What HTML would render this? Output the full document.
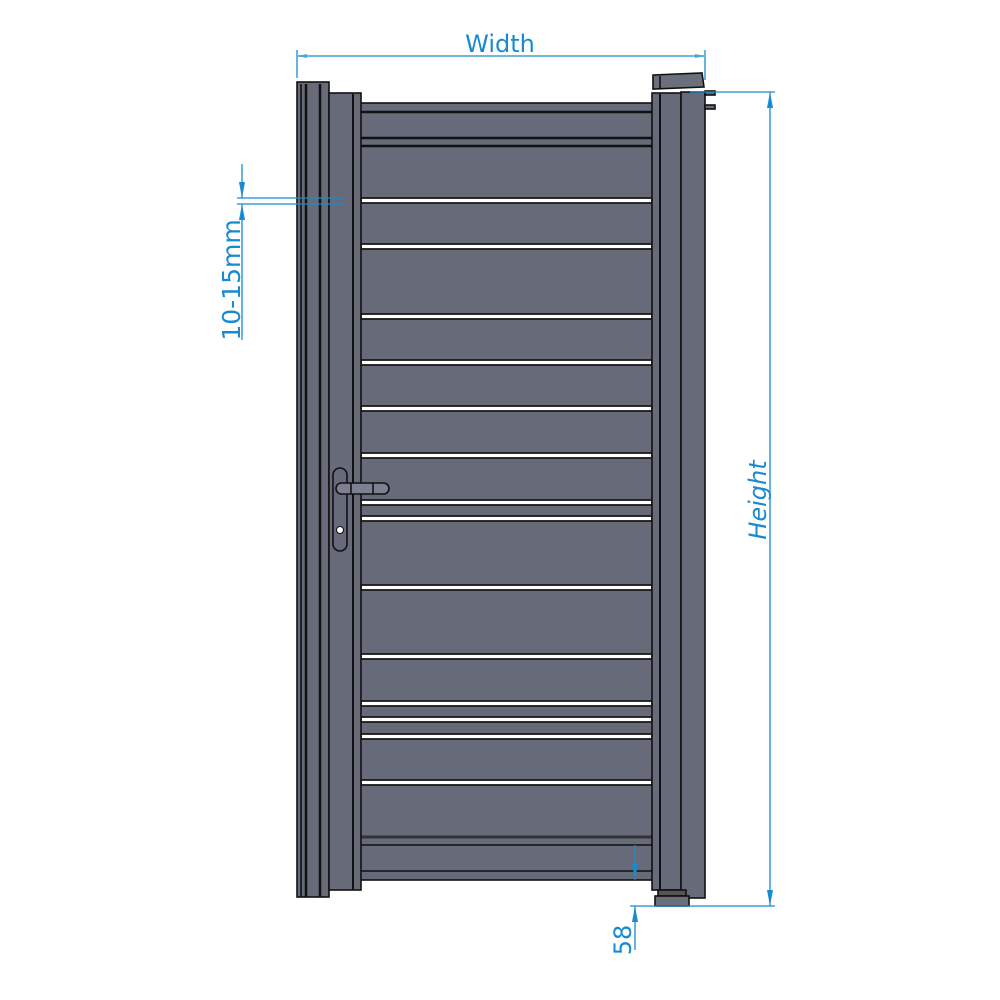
<!DOCTYPE html>
<html><head><style>html,body{margin:0;padding:0;background:#fff}svg{display:block}</style></head>
<body>
<svg width="1000" height="1000" viewBox="0 0 1000 1000" xmlns="http://www.w3.org/2000/svg">
<defs>
<marker id="a" viewBox="0 0 16 6" refX="16" refY="3" markerWidth="16" markerHeight="6" orient="auto-start-reverse" markerUnits="userSpaceOnUse"><path d="M0,0 L16,3 L0,6z" fill="#1a8ad0"/></marker>
<marker id="b" viewBox="0 0 10 4" refX="10" refY="2" markerWidth="10" markerHeight="4" orient="auto-start-reverse" markerUnits="userSpaceOnUse"><path d="M0,0 L10,2 L0,4z" fill="#4aa8d8"/></marker>
</defs>
<g stroke="#111" stroke-width="1.6" fill="#676b79">
<rect x="360" y="103" width="293" height="777"/>
<line x1="360" y1="112" x2="653" y2="112" stroke-width="2.5"/>
<line x1="360" y1="138" x2="653" y2="138" stroke-width="2.5"/>
<line x1="360" y1="146" x2="653" y2="146" stroke-width="2.5"/>
<line x1="360" y1="837" x2="653" y2="837" stroke="#333" stroke-width="3"/>
<line x1="360" y1="845" x2="653" y2="845"/>
<line x1="360" y1="871" x2="653" y2="871"/>
</g>
<g fill="#fff" stroke="#1a1a1a" stroke-width="1.8">
<rect x="361" y="198" width="291" height="5"/>
<rect x="361" y="244" width="291" height="5"/>
<rect x="361" y="314" width="291" height="5"/>
<rect x="361" y="360" width="291" height="5"/>
<rect x="361" y="406" width="291" height="5"/>
<rect x="361" y="453" width="291" height="5"/>
<rect x="361" y="500" width="291" height="5"/>
<rect x="361" y="516" width="291" height="5"/>
<rect x="361" y="585" width="291" height="5"/>
<rect x="361" y="654" width="291" height="5"/>
<rect x="361" y="701" width="291" height="5"/>
<rect x="361" y="717" width="291" height="5"/>
<rect x="361" y="734" width="291" height="5"/>
<rect x="361" y="780" width="291" height="5"/>
</g>
<g stroke="#111" stroke-width="1.6" fill="#676b79">
<rect x="297" y="82" width="32" height="815"/>
<line x1="306" y1="84" x2="306" y2="897" stroke-width="2.5"/>
<line x1="320" y1="84" x2="320" y2="897" stroke-width="2.5"/>
<line x1="301" y1="84" x2="301" y2="897"/>
<rect x="329" y="93" width="32" height="797"/>
<line x1="353" y1="94" x2="353" y2="890" stroke-width="2"/>
<rect x="652" y="93" width="29" height="797"/>
<line x1="660" y1="94" x2="660" y2="890" stroke-width="2"/>
<rect x="681" y="92" width="24" height="806"/>
<rect x="705" y="91" width="10" height="4"/>
<rect x="705" y="105" width="10" height="4"/>
<path d="M653,75 L702,73 L704,87 L653,89z" fill="#6b6f7c"/>
<line x1="660" y1="76" x2="660" y2="89"/>
<rect x="658" y="890" width="28" height="6" fill="#555"/>
<rect x="655" y="896" width="34" height="10" fill="#6b6f7c"/>
<rect x="333" y="468" width="14" height="83" rx="7"/>
<rect x="336" y="483" width="53" height="11" rx="5.5" fill="#7c8090"/>
<line x1="351" y1="483" x2="351" y2="494"/>
<line x1="373" y1="483" x2="373" y2="494"/>
<circle cx="340" cy="530" r="3.5" fill="#fff" stroke-width="1"/>
</g>
<g stroke="#1a8ad0" stroke-width="1.3" fill="none">
<line x1="297" y1="50" x2="297" y2="78"/>
<line x1="705" y1="50" x2="705" y2="80"/>
<line x1="297" y1="56" x2="705" y2="56" stroke="#6fb8dc" stroke-width="2" marker-start="url(#b)" marker-end="url(#b)"/>
<line x1="690" y1="92" x2="775" y2="92"/>
<line x1="630" y1="906" x2="775" y2="906"/>
<line x1="770" y1="92" x2="770" y2="906" marker-start="url(#a)" marker-end="url(#a)"/>
<line x1="237" y1="198" x2="343" y2="198"/>
<line x1="237" y1="204" x2="343" y2="204"/>
<line x1="242" y1="164" x2="242" y2="198" marker-end="url(#a)"/>
<line x1="242" y1="340" x2="242" y2="204" marker-end="url(#a)"/>
<line x1="635" y1="845" x2="635" y2="880" marker-end="url(#a)"/>
<line x1="635" y1="950" x2="635" y2="906" marker-end="url(#a)"/>
</g>
<g fill="#1a8ad0" font-family="'DejaVu Sans','Liberation Sans',sans-serif" font-size="24">
<text x="500" y="52" text-anchor="middle">Width</text>
<text transform="translate(240,280) rotate(-90)" text-anchor="middle" font-size="25">10-15mm</text>
<text transform="translate(766,500) rotate(-90)" text-anchor="middle" font-style="italic">Height</text>
<text transform="translate(631,940) rotate(-90)" text-anchor="middle">58</text>
</g>
</svg>
</body></html>
